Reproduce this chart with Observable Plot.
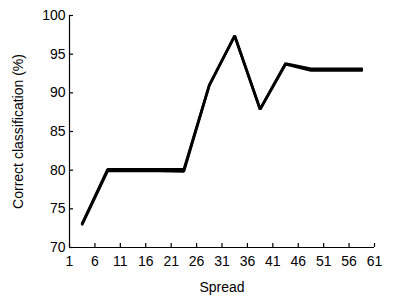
<!DOCTYPE html>
<html>
<head>
<meta charset="utf-8">
<script src="https://cdn.jsdelivr.net/npm/d3@7"></script>
<script src="https://cdn.jsdelivr.net/npm/@observablehq/plot@0.6"></script>
<style>
  html, body { margin: 0; padding: 0; background: #fff; }
  svg { font-family: "Liberation Sans", Arial, sans-serif; }
</style>
</head>
<body>
<div id="chart"></div>
<script>
const spread = [3.5, 8.5, 13.5, 18.5, 23.5, 28.5, 33.5, 38.5, 43.5, 48.5, 53.5, 58.5];
const runA = [73.1, 80.1, 80.1, 80.1, 80.1, 91.0, 97.4, 87.9, 93.8, 93.1, 93.1, 93.1];
const runB = [73.0, 79.9, 79.9, 79.9, 79.85, 90.95, 97.35, 87.85, 93.7, 92.9, 92.9, 92.9];
const xTicks = [1, 6, 11, 16, 21, 26, 31, 36, 41, 46, 51, 56, 61];
const yTicks = [70, 75, 80, 85, 90, 95, 100];

const data = [
  ...spread.map((s, i) => ({spread: s, value: runA[i], run: "A"})),
  ...spread.map((s, i) => ({spread: s, value: runB[i], run: "B"}))
];

const chart = Plot.plot({
  width: 402,
  height: 300,
  marginLeft: 69,
  marginRight: 28,
  marginTop: 15,
  marginBottom: 53,
  style: {fontSize: "14px", fontFamily: "'Liberation Sans', Arial, sans-serif", color: "#000", background: "#fff"},
  x: {domain: [1, 61]},
  y: {domain: [70, 100]},
  marks: [
    Plot.axisX({ticks: xTicks, tickSize: -4, text: null, label: null, strokeWidth: 1.2}),
    Plot.axisX({ticks: xTicks, tickSize: 0, tickPadding: 9, label: "Spread", labelAnchor: "center", labelArrow: "none", labelOffset: 44, fontSize: 14}),
    Plot.axisY({ticks: yTicks, tickSize: -4, text: null, label: null, strokeWidth: 1.2}),
    Plot.axisY({ticks: yTicks, tickSize: 0, tickPadding: 4, label: "Correct classification (%)", labelAnchor: "center", labelArrow: "none", labelOffset: 56, fontSize: 14}),
    Plot.ruleY([70], {stroke: "#000", strokeWidth: 1.2}),
    Plot.ruleX([1], {stroke: "#000", strokeWidth: 1.2}),
    Plot.line(data, {x: "spread", y: "value", z: "run", stroke: "#000", strokeWidth: 2.7, strokeLinejoin: "miter"})
  ]
});
document.getElementById("chart").appendChild(chart);
</script>
</body>
</html>
